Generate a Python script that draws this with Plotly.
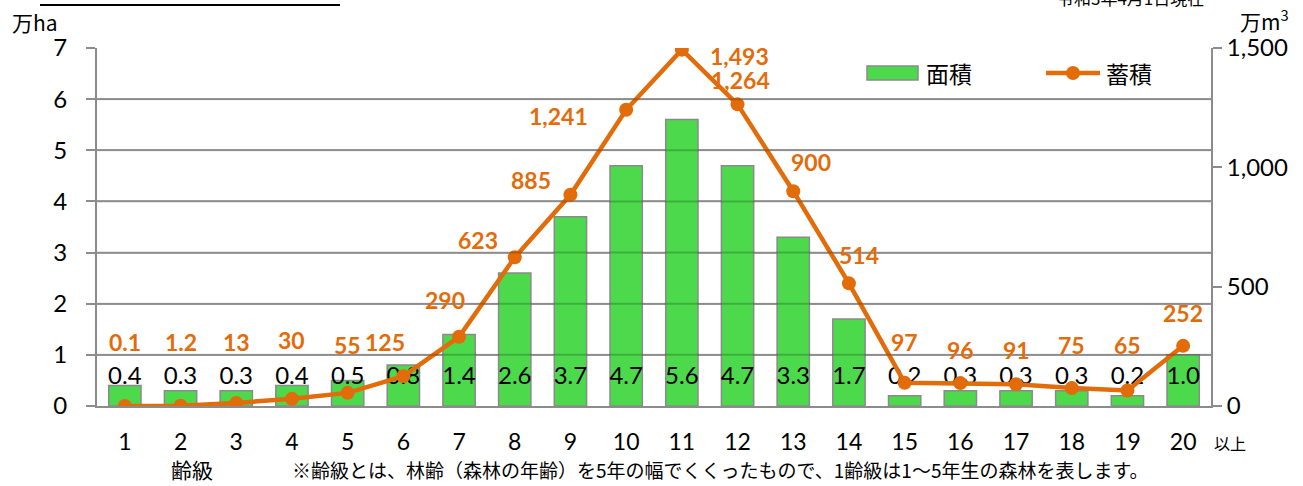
import plotly.graph_objects as go

# ---- data ----
age_classes = [str(i) for i in range(1, 21)]
area = [0.4, 0.3, 0.3, 0.4, 0.5, 0.8, 1.4, 2.6, 3.7, 4.7, 5.6, 4.7, 3.3, 1.7, 0.2, 0.3, 0.3, 0.3, 0.2, 1.0]
volume = [0.1, 1.2, 13, 30, 55, 125, 290, 623, 885, 1241, 1493, 1264, 900, 514, 97, 96, 91, 75, 65, 252]
volume_text = ["0.1", "1.2", "13", "30", "55", "125", "290", "623", "885", "1,241", "1,493",
               "1,264", "900", "514", "97", "96", "91", "75", "65", "252"]
left_ticks = [0, 1, 2, 3, 4, 5, 6, 7]
right_ticks = [0, 500, 1000, 1500]

# ---- styles ----
GREEN = "#4CDA4C"
ORANGE = "#E36C0A"
GRID = "#AFAFAF"
AXIS = "#8C8C8C"
NUMFONT = "Lato, Noto Sans CJK JP, sans-serif"
JPFONT = "Noto Sans CJK JP, sans-serif"
# label offsets (px) for volume labels relative to their points
vol_label_shift = [(0, 64), (0, 64), (0, 61), (0, 59), (0, 48), (-18, 34), (-14, 37), (-37, 17),
                   (-39, 15), (-68, -6), (58, -6), (3, 24), (18, 29), (10, 28), (0, 41), (0, 33),
                   (0, 34), (0, 43), (0, 45), (0, 33)]
BAR_LABEL_Y = 0.55

ML, MR, MT, MB = 97, 92, 48, 80
W, H = 1303, 486
PW, PH = W - ML - MR, H - MT - MB


def px(xp):
    return (xp - ML) / PW


def py(yp):
    return (H - MB - yp) / PH


x = list(range(1, 21))

fig = go.Figure()
fig.add_trace(go.Bar(
    x=x, y=area, name="面積", width=0.58,
    marker=dict(color=GREEN, line=dict(color="#8A8A8A", width=1.5)),
    yaxis="y", showlegend=False,
))
fig.add_trace(go.Scatter(
    x=x, y=volume, name="蓄積", mode="lines+markers",
    line=dict(color=ORANGE, width=4.5),
    marker=dict(color=ORANGE, size=14),
    yaxis="y2", showlegend=False,
))
# bar value labels (fixed near base)
fig.add_trace(go.Scatter(
    x=x, y=[BAR_LABEL_Y] * len(x), mode="text",
    text=[f"{v:.1f}" for v in area],
    textfont=dict(family=NUMFONT, size=24, color="black"),
    showlegend=False, hoverinfo="skip", yaxis="y",
))

annotations = []
for xi, v, t, (dx, dy) in zip(x, volume, volume_text, vol_label_shift):
    annotations.append(dict(
        x=xi, y=v, xref="x", yref="y2", text=f"<b>{t}</b>", showarrow=False,
        xshift=dx, yshift=dy, font=dict(family=NUMFONT, size=23, color=ORANGE),
    ))

annotations += [
    dict(x=px(10), y=py(22), xref="paper", yref="paper", text="万ha", showarrow=False,
         xanchor="left", yanchor="middle", font=dict(family=JPFONT, size=21, color="black")),
    dict(x=px(1238), y=py(20), xref="paper", yref="paper", text="万m<sup>3</sup>",
         showarrow=False, xanchor="left", yanchor="middle",
         font=dict(family=JPFONT, size=21, color="black")),
    dict(x=px(1230), y=py(443), xref="paper", yref="paper", text="以上", showarrow=False,
         xanchor="center", yanchor="middle", font=dict(family=JPFONT, size=16, color="black")),
    dict(x=px(192), y=py(469), xref="paper", yref="paper", text="齢級", showarrow=False,
         xanchor="center", yanchor="middle", font=dict(family=JPFONT, size=21, color="black")),
    dict(x=px(720), y=py(469), xref="paper", yref="paper",
         text="※齢級とは、林齢（森林の年齢）を5年の幅でくくったもので、1齢級は1～5年生の森林を表します。",
         showarrow=False, xanchor="center", yanchor="middle",
         font=dict(family=JPFONT, size=19, color="black")),
    dict(x=px(1130), y=py(-3), xref="paper", yref="paper", text="令和3年4月1日現在",
         showarrow=False, xanchor="center", yanchor="middle",
         font=dict(family=JPFONT, size=17, color="black")),
    # custom legend texts
    dict(x=px(924), y=py(73), xref="paper", yref="paper", text="面積", showarrow=False,
         xanchor="left", yanchor="middle", font=dict(family=JPFONT, size=23, color="black")),
    dict(x=px(1104), y=py(73), xref="paper", yref="paper", text="蓄積", showarrow=False,
         xanchor="left", yanchor="middle", font=dict(family=JPFONT, size=23, color="black")),
]

shapes = [
    # cut-off title underline
    dict(type="line", xref="paper", yref="paper", x0=px(40), x1=px(340), y0=py(5), y1=py(5),
         line=dict(color="black", width=2)),
    # custom legend marks
    dict(type="rect", xref="paper", yref="paper", x0=px(867), x1=px(918), y0=py(80), y1=py(66),
         fillcolor=GREEN, line=dict(color="#8A8A8A", width=1.5)),
    dict(type="line", xref="paper", yref="paper", x0=px(1046), x1=px(1100), y0=py(73), y1=py(73),
         line=dict(color=ORANGE, width=4.5)),
    dict(type="circle", xref="paper", yref="paper", x0=px(1066), x1=px(1080), y0=py(80), y1=py(66),
         fillcolor=ORANGE, line=dict(color=ORANGE, width=0)),
]
# translucent gridline overlay so the grid shows across the bars
for t in left_ticks[1:-1]:
    shapes.append(dict(type="line", xref="paper", yref="y", x0=0, x1=1, y0=t, y1=t,
                       layer="above", line=dict(color="rgba(0,0,0,0.2)", width=2)))

fig.update_layout(
    width=W, height=H, autosize=False,
    margin=dict(l=ML, r=MR, t=MT, b=MB, autoexpand=False),
    paper_bgcolor="white", plot_bgcolor="white",
    font=dict(family=NUMFONT, size=22, color="black"),
    xaxis=dict(
        range=[0.5, 20.5], tickvals=x, ticktext=age_classes,
        showgrid=False, showline=True, linecolor=AXIS, linewidth=2,
        ticks="outside", ticklen=14, tickcolor="rgba(0,0,0,0)",
        tickfont=dict(family=NUMFONT, size=23, color="black"),
        zeroline=False, automargin=False,
    ),
    yaxis=dict(
        range=[0, 7], tickvals=left_ticks, showgrid=True, gridcolor=GRID, gridwidth=2,
        showline=True, linecolor=AXIS, linewidth=2, ticks="outside", ticklen=9,
        tickcolor=AXIS, tickwidth=2, ticklabelstandoff=14,
        tickfont=dict(family=NUMFONT, size=24, color="black"), zeroline=False,
        automargin=False,
    ),
    yaxis2=dict(
        range=[0, 1500], tickvals=right_ticks, tickformat=",", overlaying="y", side="right",
        showgrid=False, showline=True, linecolor=AXIS, linewidth=2, ticks="outside",
        ticklen=9, tickcolor=AXIS, tickwidth=2,
        tickfont=dict(family=NUMFONT, size=24, color="black"), zeroline=False,
        automargin=False,
    ),
    annotations=annotations,
    shapes=shapes,
    showlegend=False,
)

fig.write_html(
    "out.html",
    config={"displayModeBar": False},
    post_script="document.body.style.margin='0px';document.body.style.overflow='hidden';",
)
